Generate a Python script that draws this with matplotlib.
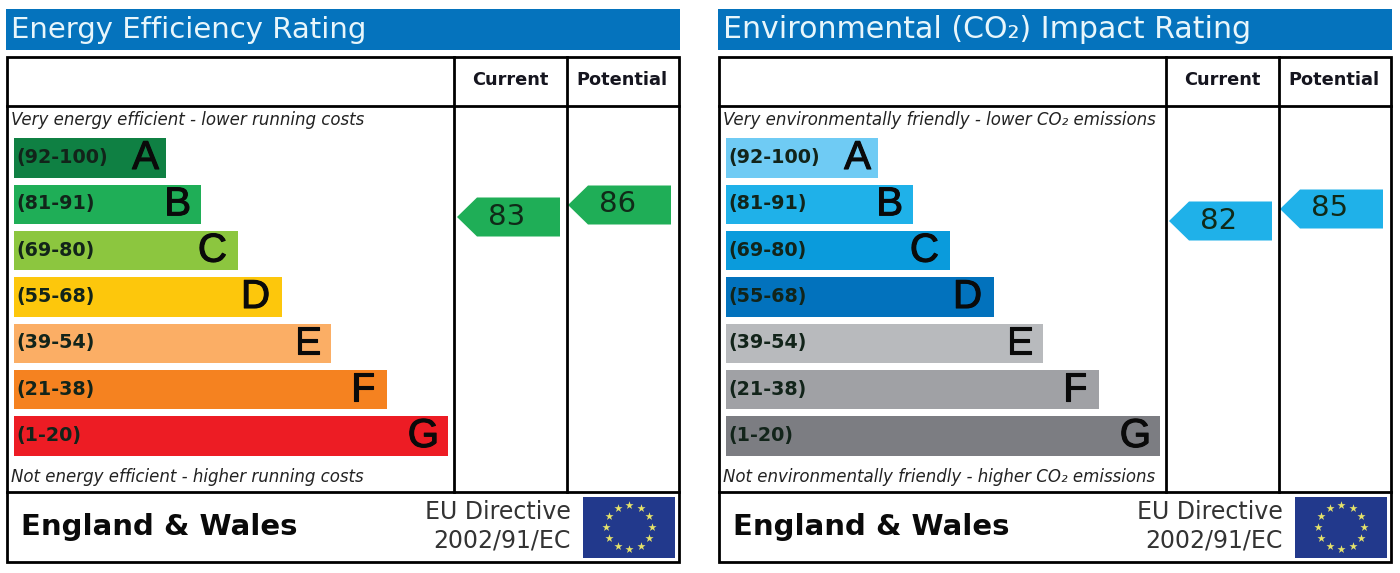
import numpy as np
import matplotlib
matplotlib.use("Agg")
import matplotlib.pyplot as plt
import matplotlib.patheffects as pe
from matplotlib.patches import Polygon, Rectangle

# Chart data
bands = ['(92-100)', '(81-91)', '(69-80)', '(55-68)', '(39-54)', '(21-38)', '(1-20)']
letters = ['A', 'B', 'C', 'D', 'E', 'F', 'G']
band_widths = [152, 187, 224, 268, 317, 373, 434]
letter_gaps = [6, 9, 10, 11, 9, 11, 8]

energy_title = 'Energy Efficiency Rating'
energy_top = 'Very energy efficient - lower running costs'
energy_bottom = 'Not energy efficient - higher running costs'
energy_colors = ['#0f8043', '#1fae57', '#8cc63f', '#fdc70c', '#fbae65', '#f58220', '#ed1c24']
energy_current = 83
energy_potential = 86
energy_arrow = '#1fae57'

env_title = 'Environmental (CO₂) Impact Rating'
env_top = 'Very environmentally friendly - lower CO₂ emissions'
env_bottom = 'Not environmentally friendly - higher CO₂ emissions'
env_colors = ['#6fcbf4', '#1fb1e9', '#0a9bdc', '#0272bd', '#b8babd', '#a0a1a5', '#7c7d82']
env_current = 82
env_potential = 85
env_arrow = '#1fb1e9'

region = 'England & Wales'
directive = ['EU Directive', '2002/91/EC']


def rating_y(value):
    # pointer height follows the rating
    return 549 - 4.0 * value


def draw_pointer(ax, x0, value, color, text_dy):
    y = rating_y(value)
    ax.add_patch(Polygon([(x0, y), (x0 + 20, y - 19.5), (x0 + 103, y - 19.5),
                          (x0 + 103, y + 19.5), (x0 + 20, y + 19.5)],
                         closed=True, fc=color, ec='none'))
    ax.text(x0 + 50, y + text_dy, str(value), fontsize=21, ha='center', va='center', color='#102a18')


def draw_panel(ax, x0, title, title_size, top, bottom, colors, current, potential, arrow):
    # title strip
    ax.add_patch(Rectangle((x0, 9), 674, 41, fc='#0573bd', ec='none'))
    ax.text(x0 + 5, 30, title, fontsize=title_size, color='#e8f6fb', va='center', ha='left')

    # frame and grid
    ax.add_patch(Rectangle((x0 + 1, 57), 672, 505, fc='white', ec='black', lw=2))
    ax.plot([x0 + 1, x0 + 673], [106, 106], color='black', lw=2)
    ax.plot([x0 + 1, x0 + 673], [491.5, 491.5], color='black', lw=2)
    ax.plot([x0 + 448, x0 + 448], [57, 491.5], color='black', lw=2)
    ax.plot([x0 + 560.5, x0 + 560.5], [57, 491.5], color='black', lw=2)

    ax.text(x0 + 504, 80, 'Current', fontsize=12.8, fontweight='bold', ha='center', va='center', color='#15151f')
    ax.text(x0 + 616, 80, 'Potential', fontsize=12.8, fontweight='bold', ha='center', va='center', color='#15151f')

    ax.text(x0 + 5, 120, top, fontsize=12, style='italic', ha='left', va='center', color='#222222')
    ax.text(x0 + 5, 477, bottom, fontsize=12, style='italic', ha='left', va='center', color='#222222')

    # rating bands
    ys = np.linspace(158, 436, len(bands))
    ax.barh(ys, band_widths, left=x0 + 7.5, height=39.5, color=colors)
    for y, band, letter, w, gap in zip(ys, bands, letters, band_widths, letter_gaps):
        ax.text(x0 + 10, y - 0.5, band, fontsize=13.8, fontweight='bold', ha='left', va='center', color='#12241a')
        ax.text(x0 + 7 + w - gap, y, letter, fontsize=29, family='Liberation Sans', ha='right', va='center',
                color='#0a0a0a', path_effects=[pe.withStroke(linewidth=0.8, foreground='#0a0a0a')])

    draw_pointer(ax, x0 + 451, current, arrow, 0)
    draw_pointer(ax, x0 + 562, potential, arrow, -1.5)

    # footer
    ax.text(x0 + 15, 527, region, fontsize=21, fontweight='bold', ha='left', va='center', color='#0a0a0a')
    ax.text(x0 + 565, 512, directive[0], fontsize=17, ha='right', va='center', color='#333333')
    ax.text(x0 + 565, 541, directive[1], fontsize=17, ha='right', va='center', color='#333333')

    # EU flag
    ax.add_patch(Rectangle((x0 + 577, 497), 92, 61, fc='#22398c', ec='none'))
    ang = np.linspace(0, 2 * np.pi, 12, endpoint=False)
    ax.scatter(x0 + 623 + 23 * np.sin(ang), 527 - 22 * np.cos(ang), marker='*', s=38, color='#e6e36a', linewidths=0)


plt.rcParams['font.family'] = ['DejaVu Sans']
fig = plt.figure(figsize=(14, 5.73), dpi=100)
ax = fig.add_axes([0, 0, 1, 1])
ax.set_xlim(0, 1400)
ax.set_ylim(573, 0)
ax.axis('off')

draw_panel(ax, 6, energy_title, 21, energy_top, energy_bottom, energy_colors,
           energy_current, energy_potential, energy_arrow)
draw_panel(ax, 718, env_title, 21.6, env_top, env_bottom, env_colors,
           env_current, env_potential, env_arrow)

fig.savefig('out.png', dpi=100)
